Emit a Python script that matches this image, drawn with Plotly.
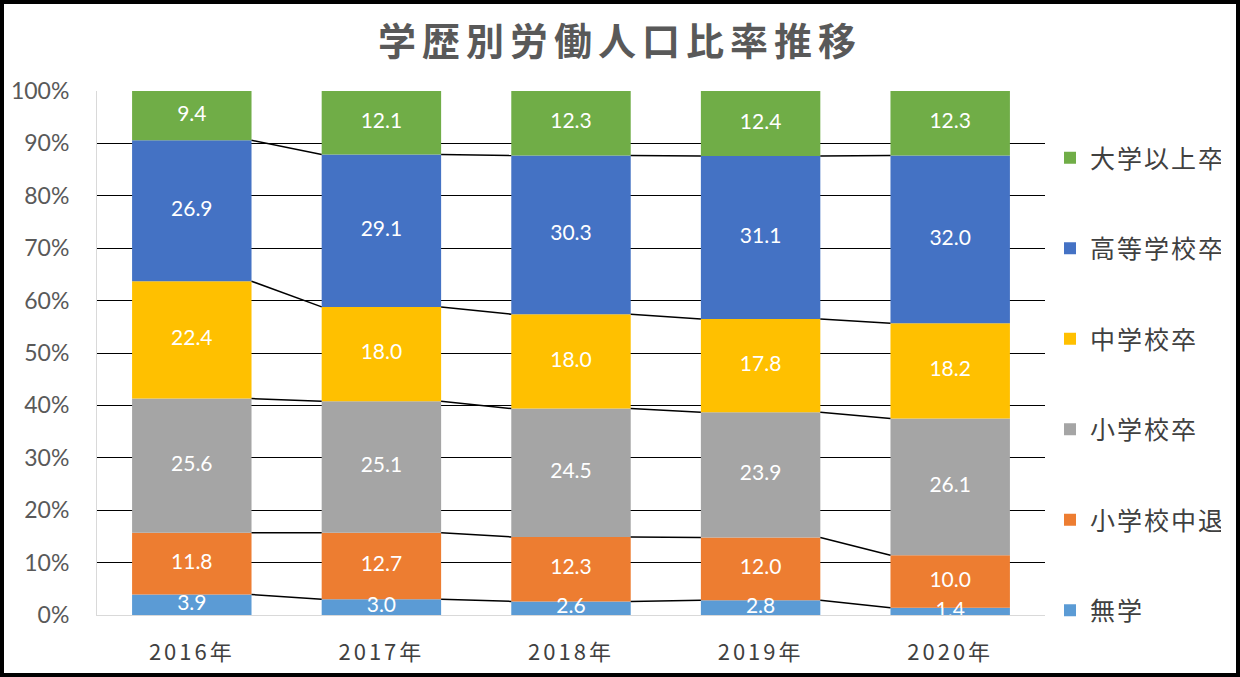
import plotly.graph_objects as go
import numpy as np

years = ["2016年", "2017年", "2018年", "2019年", "2020年"]
series_names = ["無学", "小学校中退", "小学校卒", "中学校卒", "高等学校卒", "大学以上卒"]
v_mugaku = [3.9, 3.0, 2.6, 2.8, 1.4]
v_shochutai = [11.8, 12.7, 12.3, 12.0, 10.0]
v_shosotsu = [25.6, 25.1, 24.5, 23.9, 26.1]
v_chusotsu = [22.4, 18.0, 18.0, 17.8, 18.2]
v_kousotsu = [26.9, 29.1, 30.3, 31.1, 32.0]
v_daisotsu = [9.4, 12.1, 12.3, 12.4, 12.3]
colors = ["#5B9BD5", "#ED7D31", "#A5A5A5", "#FFC000", "#4472C4", "#70AD47"]

values = [v_mugaku, v_shochutai, v_shosotsu, v_chusotsu, v_kousotsu, v_daisotsu]
W = 0.63
xs = np.arange(len(years))
FONT = "Lato, Noto Sans CJK JP, sans-serif"
JFONT = "Noto Sans CJK JP, sans-serif"

fig = go.Figure()
cum = np.zeros(len(years))
tops = []
n = len(series_names)
for k, (name, vals, col) in enumerate(zip(series_names, values, colors)):
    vals = np.array(vals)
    fig.add_trace(go.Bar(
        x=xs, y=vals, base=cum.copy(), name=name, width=W,
        marker=dict(color=col, line=dict(width=0)),
        legendgroup=name, legendrank=n - k, hoverinfo="skip",
    ))
    mid = cum + vals / 2
    fig.add_trace(go.Scatter(
        x=xs, y=mid, mode="text", text=[f"{v:.1f}" for v in vals],
        textfont=dict(color="white", size=21, family=FONT),
        showlegend=False, cliponaxis=True, hoverinfo="skip",
    ))
    cum = cum + vals
    tops.append(cum.copy())

# series lines connecting segment tops between bars
for t in tops[:-1]:
    lx, ly = [], []
    for i in range(len(years) - 1):
        lx += [xs[i] + W / 2, xs[i + 1] - W / 2, None]
        ly += [t[i], t[i + 1], None]
    fig.add_trace(go.Scatter(
        x=lx, y=ly, mode="lines", line=dict(color="black", width=1.5),
        showlegend=False, hoverinfo="skip",
    ))

L, R, T, B = 97, 195, 91, 62
PW, PH = 1240 - L - R, 677 - T - B

fig.update_layout(
    width=1240, height=677,
    margin=dict(l=L, r=R, t=T, b=B),
    barmode="overlay",
    plot_bgcolor="white", paper_bgcolor="white",
    title=dict(text="<b>学歴別労働人口比率推移</b>", x=0.5, xanchor="center",
               y=1 - 42 / 677, yanchor="middle",
               font=dict(family=JFONT, size=38, color="#595959")),
    showlegend=True,
    legend=dict(x=(1050 - L) / PW, xanchor="left", y=(615 - 135) / PH, yanchor="top",
                traceorder="grouped", tracegroupgap=55,
                font=dict(family=JFONT, size=25, color="#404040"),
                bgcolor="rgba(0,0,0,0)", itemclick=False),
    xaxis=dict(range=[-0.5, len(years) - 0.5], tickvals=xs, ticktext=years,
               showgrid=False, zeroline=False, showline=True, linecolor="#D9D9D9",
               linewidth=1, ticks="", ticklabelstandoff=18,
               tickfont=dict(family=JFONT, size=22, color="#404040")),
    yaxis=dict(range=[0, 100], tickvals=list(range(0, 101, 10)),
               ticktext=[f"{v}%" for v in range(0, 101, 10)],
               showgrid=True, gridcolor="black", gridwidth=1,
               zeroline=False, showline=True, linecolor="#D9D9D9", linewidth=1,
               ticks="", ticklabelstandoff=22,
               tickfont=dict(family=FONT, size=23, color="#595959")),
    shapes=[dict(type="rect", xref="paper", yref="paper",
                 x0=(2 - L) / PW, x1=(1238 - L) / PW,
                 y0=(PH + T - 675) / PH, y1=(PH + T - 2) / PH,
                 line=dict(color="black", width=4), fillcolor="rgba(0,0,0,0)",
                 layer="above")],
)

post = """
document.body.style.margin='0';
document.body.style.overflow='hidden';
var gd=document.getElementById('{plot_id}');
gd.querySelectorAll('.gtitle').forEach(function(e){e.style.letterSpacing='6px';});
gd.querySelectorAll('.xtick text').forEach(function(e){e.style.letterSpacing='3px';});
gd.querySelectorAll('.legendtext').forEach(function(e){e.style.letterSpacing='2px';});
"""
fig.write_html("out.html", post_script=post, config={"displayModeBar": False})
